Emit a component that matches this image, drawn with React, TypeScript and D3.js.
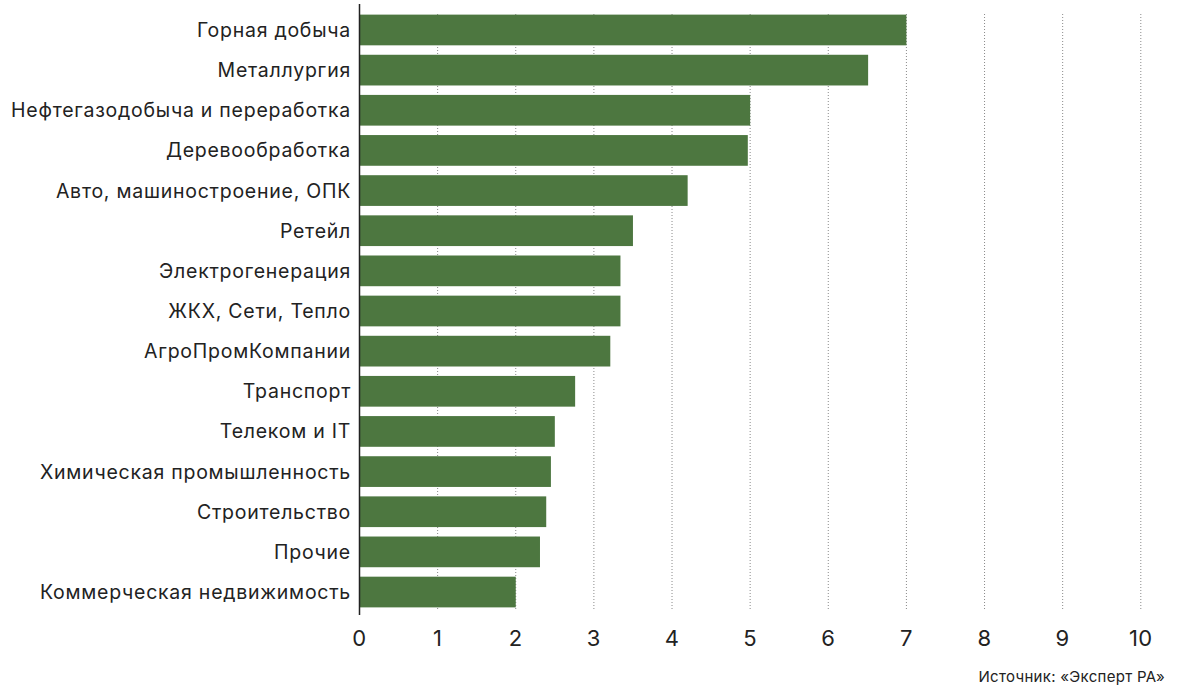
import React from "react";
import * as d3 from "d3";

const categories = [
  "Горная добыча",
  "Металлургия",
  "Нефтегазодобыча и переработка",
  "Деревообработка",
  "Авто, машиностроение, ОПК",
  "Ретейл",
  "Электрогенерация",
  "ЖКХ, Сети, Тепло",
  "АгроПромКомпании",
  "Транспорт",
  "Телеком и IT",
  "Химическая промышленность",
  "Строительство",
  "Прочие",
  "Коммерческая недвижимость",
];
const values = [7.0, 6.51, 5.0, 4.97, 4.2, 3.5, 3.34, 3.34, 3.21, 2.76, 2.5, 2.45, 2.39, 2.31, 2.0];
const tickValues = [0, 1, 2, 3, 4, 5, 6, 7, 8, 9, 10];
const sourceText = "Источник: «Эксперт РА»";

const W = 1178;
const H = 688;
const FONT = "Inter, 'Noto Sans', sans-serif";

export default function App() {
  const x = d3.scaleLinear().domain([0, 10]).range([359.5, 1140.8]);
  const y = d3
    .scaleBand<string>()
    .domain(categories)
    .range([9.8, 612.2])
    .paddingInner(0.235)
    .paddingOuter(0.12);

  return (
    <svg
      width={W}
      height={H}
      style={{ position: "absolute", left: 0, top: 0, background: "#fff" }}
      fontFamily={FONT}
    >
      {tickValues
        .filter((t) => t > 0)
        .map((t) => (
          <line
            key={"g" + t}
            x1={x(t)}
            x2={x(t)}
            y1={14}
            y2={611}
            stroke="#8a8a8a"
            strokeWidth={1}
            strokeDasharray="1,2"
          />
        ))}
      {categories.map((c, i) => (
        <rect
          key={c}
          x={x(0)}
          y={y(c)}
          width={x(values[i]) - x(0)}
          height={y.bandwidth()}
          fill="#4d7740"
        />
      ))}
      <line x1={x(0)} x2={x(0)} y1={4} y2={615} stroke="#222" strokeWidth={1.5} />
      {categories.map((c) => (
        <text
          key={"l" + c}
          x={351}
          y={(y(c) as number) + y.bandwidth() / 2}
          textAnchor="end"
          dominantBaseline="central"
          fontSize={19.5}
          letterSpacing={0.75}
          fill="#222"
        >
          {c}
        </text>
      ))}
      {tickValues.map((t) => (
        <text
          key={"t" + t}
          x={x(t)}
          y={638}
          textAnchor="middle"
          dominantBaseline="central"
          fontSize={22}
          letterSpacing={0.5}
          fill="#222"
        >
          {t}
        </text>
      ))}
      <text x={1165} y={682} textAnchor="end" fontSize={15} letterSpacing={0.3} fill="#222">
        {sourceText}
      </text>
    </svg>
  );
}
